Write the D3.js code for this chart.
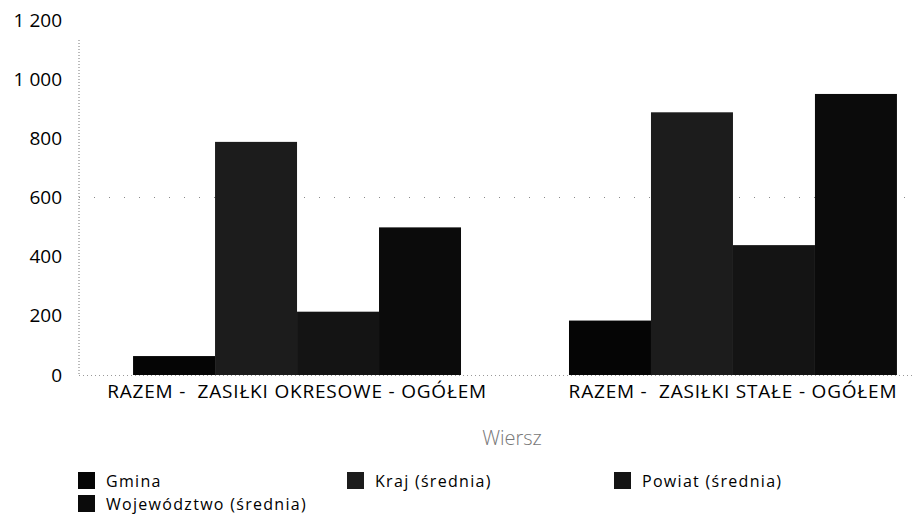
<!DOCTYPE html>
<html>
<head>
<meta charset="utf-8">
<script src="https://cdn.jsdelivr.net/npm/d3@7"></script>
<style>
  body { margin: 0; background: #fff; }
  text { font-family: "Open Sans", sans-serif; white-space: pre; }
</style>
</head>
<body>
<div id="wrapper"></div>
<script>
const categories = ["RAZEM -  ZASIŁKI OKRESOWE - OGÓŁEM", "RAZEM -  ZASIŁKI STAŁE - OGÓŁEM"];
const seriesNames = ["Gmina", "Kraj (średnia)", "Powiat (średnia)", "Województwo (średnia)"];
const gmina = [64, 184];
const kraj = [788, 888];
const powiat = [214, 439];
const wojewodztwo = [499, 950];
const yTicks = [0, 200, 400, 600, 800, 1000, 1200];
const colors = ["#050505", "#1c1c1c", "#141414", "#0b0b0b"];

function buildPlot() {
    const values = [gmina, kraj, powiat, wojewodztwo];
    const data = categories.map((c, i) => ({
        cat: c,
        vals: seriesNames.map((s, j) => ({ name: s, value: values[j][i] }))
    }));

    const dimension = { width: 914, height: 520 };
    const svg = d3.select("#wrapper").append("svg")
        .attr("width", dimension.width)
        .attr("height", dimension.height);

    const left = 79, baseline = 375;

    const yScaler = d3.scaleLinear()
        .domain([0, 1200])
        .range([baseline, 20]);

    const x0 = d3.scaleBand()
        .domain(categories)
        .range([left, 951])
        .paddingInner(0.2477)
        .paddingOuter(0.124);

    const x1 = d3.scaleBand()
        .domain(seriesNames)
        .range([0, x0.bandwidth()]);

    // grid line at 600, dotted
    svg.append("g").selectAll("line")
        .data([600])
        .join("line")
        .attr("x1", left).attr("x2", 914)
        .attr("y1", d => yScaler(d)).attr("y2", d => yScaler(d))
        .attr("stroke", "#888")
        .attr("stroke-width", 1)
        .attr("stroke-dasharray", "1,14");

    svg.append("line")
        .attr("x1", left).attr("x2", 914)
        .attr("y1", baseline + 0.5).attr("y2", baseline + 0.5)
        .attr("stroke", "#999")
        .attr("stroke-dasharray", "1,3");

    // y axis dotted line
    svg.append("line")
        .attr("x1", left).attr("x2", left)
        .attr("y1", 40).attr("y2", baseline)
        .attr("stroke", "#777")
        .attr("stroke-dasharray", "1,2");

    const fmt = d => d3.format(",")(d).replace(",", " ");
    const yAxis = d3.axisLeft(yScaler).tickValues(yTicks).tickFormat(fmt).tickSize(0).tickPadding(17);
    const gy = svg.append("g")
        .attr("transform", `translate(${left},0)`)
        .call(yAxis);
    gy.select(".domain").remove();
    gy.selectAll("text")
        .attr("fill", "#000")
        .style("font-size", "19px")
        .style("font-family", "'Open Sans', sans-serif");

    // bars
    const groups = svg.append("g").selectAll("g")
        .data(data)
        .join("g")
        .attr("transform", d => `translate(${x0(d.cat)},0)`);

    groups.selectAll("rect")
        .data(d => d.vals)
        .join("rect")
        .attr("x", d => x1(d.name))
        .attr("y", d => yScaler(d.value))
        .attr("width", x1.bandwidth())
        .attr("height", d => baseline - yScaler(d.value))
        .attr("fill", (d, i) => colors[i]);

    // x axis labels
    const xAxis = d3.axisBottom(x0).tickSize(0).tickPadding(10);
    const gx = svg.append("g")
        .attr("transform", `translate(0,${baseline})`)
        .call(xAxis);
    gx.select(".domain").remove();
    gx.selectAll("text")
        .attr("fill", "#000")
        .style("font-size", "19px")
        .style("letter-spacing", "0.8px")
        .style("white-space", "pre")
        .style("font-family", "'Open Sans', sans-serif");

    // axis title
    svg.append("text")
        .attr("x", 512)
        .attr("y", 445)
        .attr("text-anchor", "middle")
        .attr("fill", "#777")
        .style("font-size", "20px")
        .style("font-weight", 300)
        .text("Wiersz");

    // legend
    const legendPos = [[78, 487], [347, 487], [614, 487], [78, 510]];
    const legend = svg.append("g").selectAll("g")
        .data(seriesNames)
        .join("g")
        .attr("transform", (d, i) => `translate(${legendPos[i][0]},${legendPos[i][1]})`);
    legend.append("rect")
        .attr("x", 0).attr("y", -15)
        .attr("width", 17).attr("height", 17)
        .attr("fill", (d, i) => colors[i]);
    legend.append("text")
        .attr("x", 28)
        .attr("y", 0)
        .attr("fill", "#000")
        .style("font-size", "16px")
        .style("letter-spacing", "1.3px")
        .text(d => d);
}

buildPlot();
</script>
</body>
</html>
